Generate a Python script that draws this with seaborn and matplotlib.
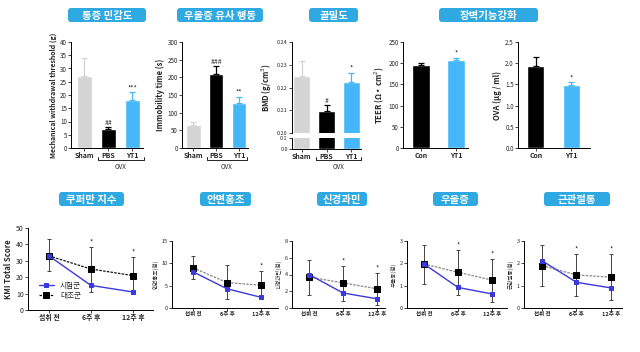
import numpy as np
import pandas as pd
import seaborn as sns
import matplotlib.pyplot as plt
from matplotlib.patches import FancyBboxPatch

# ---- data ----
ovx_groups = ["Sham", "PBS", "YT1"]
pain_mean = [27, 7, 18]
pain_err = [7, 1, 3]
pain_stars = ["", "##", "***"]

immob_mean = [65, 210, 127]
immob_err = [10, 22, 18]
immob_stars = ["", "###", "**"]

bmd_mean = [0.225, 0.2095, 0.2225]
bmd_err = [0.0065, 0.003, 0.004]
bmd_stars = ["", "#", "*"]

barrier_groups = ["Con", "YT1"]
teer_mean = [195, 207]
teer_err = [5, 6]
teer_stars = ["", "*"]
ova_mean = [1.93, 1.48]
ova_err = [0.22, 0.07]
ova_stars = ["", "*"]

time_labels = ["섭취 전", "6주 후", "12주 후"]
kmi_test = [33, 15, 11]
kmi_ctrl = [33, 25, 21]
kmi_lo = [24, 11, 10.5]
kmi_hi = [43, 38.5, 32.5]

flush_test = [8.1, 4.3, 2.4]
flush_ctrl = [9.0, 5.7, 5.1]
flush_lo = [6.5, 2.0, 2.3]
flush_hi = [11.6, 9.6, 8.3]

nerve_test = [4.0, 1.8, 1.1]
nerve_ctrl = [3.7, 3.0, 2.3]
nerve_lo = [1.55, 0.85, 0.4]
nerve_hi = [5.7, 5.0, 4.2]

depr_test = [1.97, 0.92, 0.63]
depr_ctrl = [1.97, 1.6, 1.25]
depr_lo = [1.08, 0.58, 0.27]
depr_hi = [2.82, 2.6, 2.2]

joint_test = [2.12, 1.15, 0.9]
joint_ctrl = [1.9, 1.48, 1.38]
joint_lo = [0.98, 0.54, 0.36]
joint_hi = [2.82, 2.42, 2.42]

SHAM, PBS, YT1 = "#D4D4D4", "#000000", "#45B6F7"
TEST_BLUE = "#3A3ADB"
BOX_BLUE = "#2EA9E1"

sns.set_style("white")
plt.rcParams['font.family'] = ['Noto Sans CJK KR', 'DejaVu Sans']

W, H = 640, 352
fig = plt.figure(figsize=(6.4, 3.52), dpi=100)


def add_ax(x0, y0, x1, y1):
    return fig.add_axes([x0 / W, 1 - y1 / H, (x1 - x0) / W, (y1 - y0) / H])


def style_ax(ax, fs=4.5):
    sns.despine(ax=ax)
    ax.tick_params(axis='both', labelsize=fs, length=2, width=0.6, pad=1,
                   direction='out', left=True, bottom=True)
    for s in ['left', 'bottom']:
        ax.spines[s].set_linewidth(0.7)
        ax.spines[s].set_color('black')
    ax.set_xlabel('')


def bar_panel(ax, groups, means, errs, colors, width, stars):
    df = pd.DataFrame({'group': groups, 'value': means})
    sns.barplot(data=df, x='group', y='value', hue='group', palette=dict(zip(groups, colors)),
                width=width, legend=False, errorbar=None, saturation=1, ax=ax)
    for i, (m, e, c) in enumerate(zip(means, errs, colors)):
        ax.errorbar(i, m, yerr=[[0], [e]], fmt='none', ecolor=c, elinewidth=0.9,
                    capsize=2.5, capthick=0.9)
        if stars[i]:
            ax.text(i, m + e, stars[i], ha='center', va='bottom', fontsize=5)
    ax.set_xlabel('')


def line_panel(ax, test, ctrl, lo, hi, star_idx, ctrl_color, legend=False):
    x = [0, 1, 2]
    ax.errorbar(x, ctrl, yerr=[np.subtract(ctrl, lo), np.subtract(hi, ctrl)], fmt='none',
                ecolor='#444444', elinewidth=0.7, capsize=1.5, capthick=0.7, zorder=1)
    sns.lineplot(x=x, y=ctrl, color=ctrl_color, linestyle=(0, (2, 1)), linewidth=0.9,
                 marker='s', markersize=4, markeredgecolor='black', label='대조군', ax=ax, zorder=2)
    ax.lines[-1].set_markerfacecolor('black')
    sns.lineplot(x=x, y=test, color=TEST_BLUE, linewidth=1.0, marker='s', markersize=3,
                 markeredgecolor=TEST_BLUE, label='시험군', ax=ax, zorder=3)
    for i in star_idx:
        ax.text(i, hi[i], '*', ha='center', va='bottom', fontsize=5)
    ax.set_xticks(x)
    ax.set_xticklabels(time_labels, fontweight='bold')
    if legend:
        h, l = ax.get_legend_handles_labels()
        ax.legend(h[::-1], l[::-1], loc='lower left', bbox_to_anchor=(0.03, 0.04),
                  frameon=False, fontsize=5.5, handlelength=2, labelspacing=0.3)
    else:
        ax.legend_.remove()


# ---- top row ----
ax1 = add_ax(71, 42, 143, 148)
bar_panel(ax1, ovx_groups, pain_mean, pain_err, [SHAM, PBS, YT1], 0.63, pain_stars)
ax1.set_ylim(0, 40)
ax1.set_yticks(range(0, 41, 5))
ax1.set_xlim(-0.55, 2.45)
ax1.set_ylabel('Mechanical withdrawal threshold (g)', fontsize=5, fontweight='bold', labelpad=2)
style_ax(ax1)

ax2 = add_ax(182, 42, 248, 148)
bar_panel(ax2, ovx_groups, immob_mean, immob_err, [SHAM, PBS, YT1], 0.62, immob_stars)
ax2.set_ylim(0, 300)
ax2.set_yticks(range(0, 301, 50))
ax2.set_xlim(-0.5, 2.38)
ax2.set_ylabel('Immobility time (s)', fontsize=5.5, fontweight='bold', labelpad=2)
style_ax(ax2)

ax3 = add_ax(292, 42, 361, 133)
bar_panel(ax3, ovx_groups, bmd_mean, bmd_err, [SHAM, PBS, YT1], 0.68, bmd_stars)
ax3.set_ylim(0.20, 0.24)
ax3.set_yticks([0.20, 0.21, 0.22, 0.23, 0.24])
ax3.set_yticklabels(['0.20', '0.21', '0.22', '0.23', '0.24'])
ax3.set_xlim(-0.4, 2.4)
ax3.set_ylabel('BMD (g/cm$^3$)', fontsize=5.5, fontweight='bold', labelpad=2)
style_ax(ax3, 4)
ax3.spines['bottom'].set_visible(False)
ax3.tick_params(axis='x', bottom=False, labelbottom=False)

ax3b = add_ax(292, 138, 361, 149)
bar_panel(ax3b, ovx_groups, bmd_mean, [0, 0, 0], [SHAM, PBS, YT1], 0.68, ["", "", ""])
ax3b.set_ylim(0, 0.1)
ax3b.set_yticks([0.0, 0.1])
ax3b.set_yticklabels(['0.0', '0.1'])
ax3b.set_xlim(-0.4, 2.4)
ax3b.set_ylabel('')
style_ax(ax3b, 4)

ax4 = add_ax(403, 42, 468, 148)
bar_panel(ax4, barrier_groups, teer_mean, teer_err, [PBS, YT1], 0.52, teer_stars)
ax4.set_ylim(0, 250)
ax4.set_yticks(range(0, 251, 50))
ax4.set_xlim(-0.52, 1.35)
ax4.set_ylabel('TEER (Ω • cm$^2$)', fontsize=5.5, fontweight='bold', labelpad=2)
style_ax(ax4)

ax5 = add_ax(518, 42, 590, 148)
bar_panel(ax5, barrier_groups, ova_mean, ova_err, [PBS, YT1], 0.47, ova_stars)
ax5.set_ylim(0, 2.5)
ax5.set_yticks([0, 0.5, 1.0, 1.5, 2.0, 2.5])
ax5.set_yticklabels(['0.0', '0.5', '1.0', '1.5', '2.0', '2.5'])
ax5.set_xlim(-0.5, 1.52)
ax5.set_ylabel('OVA (μg / ml)', fontsize=5.5, fontweight='bold', labelpad=2)
style_ax(ax5)

for ax in [ax1, ax2, ax3b, ax4, ax5]:
    for lab in ax.get_xticklabels():
        lab.set_fontweight('bold')
        lab.set_fontsize(5)

# ---- bottom row ----
ax6 = add_ax(28, 228, 153, 310)
line_panel(ax6, kmi_test, kmi_ctrl, kmi_lo, kmi_hi, [1, 2], '#111111', legend=True)
ax6.set_ylim(0, 50)
ax6.set_yticks(range(0, 51, 10))
ax6.set_xlim(-0.5, 2.48)
ax6.set_ylabel('KMI Total Score', fontsize=5.5, fontweight='bold', labelpad=2)
style_ax(ax6, 5)

ax7 = add_ax(172, 241, 278, 308)
line_panel(ax7, flush_test, flush_ctrl, flush_lo, flush_hi, [2], '#888888')
ax7.set_ylim(0, 15)
ax7.set_yticks([0, 5, 10, 15])
ax7.set_xlim(-0.62, 2.5)
ax7.set_ylabel('안면홍조(점)', fontsize=4, labelpad=2)
style_ax(ax7, 4)

ax8 = add_ax(292, 241, 385, 308)
line_panel(ax8, nerve_test, nerve_ctrl, nerve_lo, nerve_hi, [1, 2], '#888888')
ax8.set_ylim(0, 8)
ax8.set_yticks([0, 2, 4, 6, 8])
ax8.set_xlim(-0.5, 2.24)
ax8.set_ylabel('신경과민(점)', fontsize=4, labelpad=2)
style_ax(ax8, 4)

ax9 = add_ax(407, 241, 507, 308)
line_panel(ax9, depr_test, depr_ctrl, depr_lo, depr_hi, [1, 2], '#888888')
ax9.set_ylim(0, 3)
ax9.set_yticks([0, 1, 2, 3])
ax9.set_xlim(-0.5, 2.44)
ax9.set_ylabel('우울증(점)', fontsize=4, labelpad=2)
style_ax(ax9, 4)

ax10 = add_ax(524, 241, 622, 308)
line_panel(ax10, joint_test, joint_ctrl, joint_lo, joint_hi, [1, 2], '#888888')
ax10.set_ylim(0, 3)
ax10.set_yticks([0, 1, 2, 3])
ax10.set_xlim(-0.52, 2.32)
ax10.set_ylabel('근관절통(점)', fontsize=4, labelpad=2)
style_ax(ax10, 4)

for ax in [ax6, ax7, ax8, ax9, ax10]:
    for lab in ax.get_xticklabels():
        lab.set_fontweight('bold')

# ---- decorations: title boxes and OVX brackets, in pixel space ----
deco = fig.add_axes([0, 0, 1, 1], zorder=-1)
deco.set_xlim(0, W)
deco.set_ylim(H, 0)
deco.axis('off')

titles = [
    (68, 146, 8, 22, "통증 민감도"),
    (177, 263, 8, 22, "우울증 유사 행동"),
    (309, 358, 8, 22, "골밀도"),
    (439, 538, 8, 22, "장벽기능강화"),
    (59, 124, 192, 206, "쿠퍼만 지수"),
    (200, 251, 192, 206, "안면홍조"),
    (317, 367, 192, 206, "신경과민"),
    (433, 478, 192, 206, "우울증"),
    (544, 610, 192, 206, "근관절통"),
]
for x0, x1, y0, y1, t in titles:
    deco.add_patch(FancyBboxPatch((x0, y0), x1 - x0, y1 - y0,
                                  boxstyle="round,pad=0,rounding_size=3",
                                  fc=BOX_BLUE, ec='none'))
    deco.text((x0 + x1) / 2, (y0 + y1) / 2 + 0.5, t, ha='center', va='center',
              color='white', fontsize=7.5, fontweight='bold')

for x0, x1 in [(98, 144), (207, 247), (316, 361)]:
    deco.plot([x0, x0, x1, x1], [157, 160, 160, 157], color='black', lw=0.6)
    deco.text((x0 + x1) / 2, 163, 'OVX', ha='center', va='top', fontsize=4.5)

fig.savefig('out.png', dpi=100, facecolor='white')
